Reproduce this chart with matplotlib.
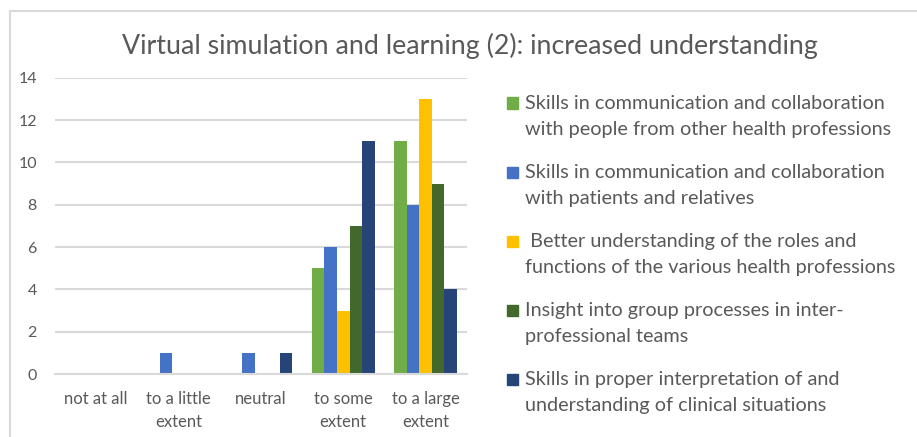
import numpy as np
import matplotlib.pyplot as plt
from matplotlib.patches import Rectangle
from matplotlib.lines import Line2D

plt.rcParams['font.family'] = ['Lato', 'DejaVu Sans']

categories = ['not at all', 'to a little\nextent', 'neutral', 'to some\nextent', 'to a large\nextent']

comm_professions = [0, 0, 0, 5, 11]
comm_patients = [0, 1, 1, 6, 8]
roles_functions = [0, 0, 0, 3, 13]
group_processes = [0, 0, 0, 7, 9]
clinical_situations = [0, 0, 1, 11, 4]

series_labels = [
    'Skills in communication and collaboration\nwith people from other health professions',
    'Skills in communication and collaboration\nwith patients and relatives',
    ' Better understanding of the roles and\nfunctions of the various health professions',
    'Insight into group processes in inter-\nprofessional teams',
    'Skills in proper interpretation of and\nunderstanding of clinical situations',
]
series_values = [comm_professions, comm_patients, roles_functions, group_processes, clinical_situations]
colors = ['#70AD47', '#4472C4', '#FFC000', '#43682B', '#264478']

text_col = '#595959'
grid_col = '#D9D9D9'

fig = plt.figure(figsize=(9.17, 4.37), dpi=100)
ax = fig.add_axes([0.060, 0.144, 0.449, 0.678])

x = np.arange(len(categories))
width = 0.153
for i, (vals, col) in enumerate(zip(series_values, colors)):
    ax.bar(x + (i - 2) * width, vals, width, color=col, zorder=3)

ax.set_xlim(-0.5, len(categories) - 0.5)
ax.set_ylim(0, 14)
ax.set_yticks(range(0, 15, 2))
ax.set_xticks(x)
ax.set_xticklabels(categories, linespacing=1.55)
ax.tick_params(axis='both', length=0, colors=text_col, labelsize=11.5)
ax.tick_params(axis='x', labelsize=12)
ax.tick_params(axis='y', pad=13)
ax.tick_params(axis='x', pad=12)
ax.yaxis.grid(True, color=grid_col, linewidth=1.5, zorder=0)
for s in ['top', 'right', 'left']:
    ax.spines[s].set_visible(False)
ax.spines['bottom'].set_color(grid_col)
ax.spines['bottom'].set_linewidth(1.5)
ax.spines['bottom'].set_zorder(4)

fig.text(0.512, 0.895, 'Virtual simulation and learning (2): increased understanding',
         ha='center', va='center', fontsize=19.3, color=text_col)

# legend drawn by hand so the square sits on the first line of each label
W, H = 917, 437
for i, (lab, col) in enumerate(zip(series_labels, colors)):
    yc = 103 + i * 69
    fig.patches.append(Rectangle((507 / W, 1 - (yc + 5.5) / H), 11 / W, 11 / H,
                                 transform=fig.transFigure, color=col))
    fig.text(525 / W, 1 - (yc - 8) / H, lab, ha='left', va='top',
             fontsize=14.3, color=text_col, linespacing=1.65)

# chart frame
fig.add_artist(Line2D([10 / W, 10 / W], [0, 1 - 11 / H], color=grid_col, linewidth=1.5))
fig.add_artist(Line2D([10 / W, 1], [1 - 11 / H, 1 - 11 / H], color=grid_col, linewidth=1.5))

fig.savefig('out.png', dpi=100)
